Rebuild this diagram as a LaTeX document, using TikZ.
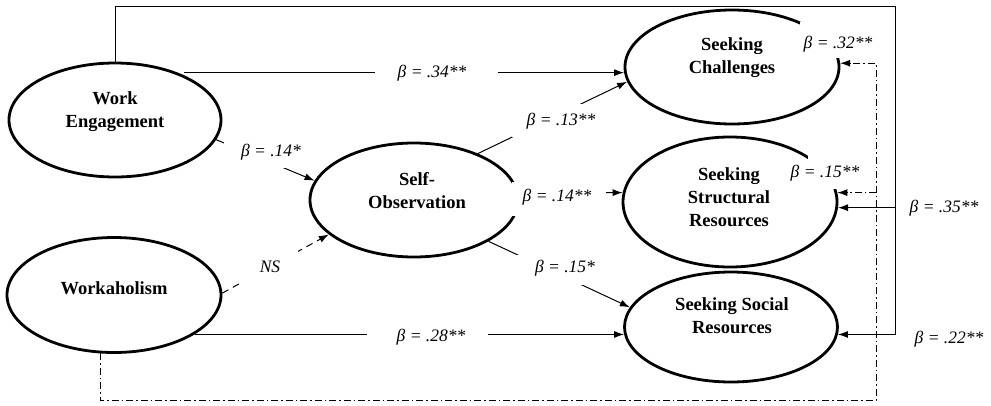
\documentclass[tikz,border=0pt]{standalone}
\usepackage{fontspec}
\setmainfont{Liberation Serif}
\usetikzlibrary{shapes.geometric,arrows.meta}
\begin{document}
\begin{tikzpicture}[x=1pt,y=-1pt,
  oval/.style={ellipse,draw,line width=2.8pt,inner sep=0pt},
  ovtext/.style={align=center,font=\bfseries\fontsize{18.5}{23}\selectfont,inner sep=0pt},
  lab/.style={font=\itshape\fontsize{17.5}{20}\selectfont,inner sep=0pt},
  conn/.style={line width=1pt},
  arr/.style={conn,-{Latex[length=10pt,width=7pt]}},
  dashline/.style={conn,dash pattern=on 7pt off 5pt},
  ddline/.style={conn,dash pattern=on 7pt off 3pt on 1.5pt off 3pt}]
\useasboundingbox (0,0) rectangle (991,405);
% ellipses
\node[oval,minimum width=212pt,minimum height=114pt] (we) at (115,120) {};
\node[oval,minimum width=214pt,minimum height=115pt] (wh) at (114,295) {};
\node[oval,minimum width=208pt,minimum height=114pt] (so) at (414,200) {};
\node[oval,minimum width=214pt,minimum height=114pt] (sc) at (732,67) {};
\node[oval,minimum width=214pt,minimum height=130pt] (ssr) at (730,202) {};
\node[oval,minimum width=213pt,minimum height=110pt] (ssoc) at (731,327) {};
% connectors
\coordinate (tr) at (895,6);
\coordinate (bl) at (876,400);
\draw[arr] (we.north) |- (tr) |- (ssoc.-4.3);
\draw[arr] (tr |- ssr.-3) -- (ssr.-3);
\draw[ddline,-{Latex[length=10pt,width=7pt]}] (wh.257) |- (bl) -- (bl |- sc.2) -- (sc.2);
\draw[ddline,-{Latex[length=10pt,width=7pt]}] (bl |- ssr.5) -- (ssr.5);
\draw[arr] (we.33 |- sc.183) -- (sc.183);
\draw[arr] (wh.-26 |- ssoc.184) -- (ssoc.184);
\draw[arr] (we.-11.5) -- (so.169);
\draw[dashline,-{Latex[length=10pt,width=7pt]}] (wh.1) -- (so.202);
\draw[arr] (so.36) -- (sc.188);
\draw[arr] (so.4) -- (ssr.175);
\draw[arr] (so.-29.5) -- (ssoc.169);
% white gaps behind labels
\fill[white] (375,64) rectangle (498,84);
\fill[white] (224,138) rectangle (318,167.5);
\fill[white] (243,251) rectangle (298,282);
\fill[white] (367,326) rectangle (488,348);
\fill[white] (512,104) rectangle (600,137);
\fill[white] (512,182) rectangle (606,216);
\fill[white] (515,255) rectangle (600,285);
\fill[white] (800,22) rectangle (872,58);
\fill[white] (808,153) rectangle (872,189);
% ellipse texts
\node[ovtext] (wet) at (115,112) {Work\\Engagement};
\node[ovtext] (wht) at (114,288) {Workaholism};
\node[ovtext] (sot) at (417,191) {Self-\\Observation};
\node[ovtext] (sct) at (732,58) {Seeking\\Challenges};
\node[ovtext] (ssrt) at (729,197) {Seeking\\Structural\\Resources};
\node[ovtext] (ssoct) at (732,316) {Seeking Social\\Resources};
% labels
\node[lab] (l34) at (432,73) {β = .34**};
\node[lab] (l14a) at (271,152) {β = .14*};
\node[lab] (lns) at (270,267) {NS};
\node[lab] (l28) at (431,337) {β = .28**};
\node[lab] (l13) at (561,121) {β = .13**};
\node[lab] (l14b) at (557,197) {β = .14**};
\node[lab] (l15a) at (565,268) {β = .15*};
\node[lab] (l32) at (838,44) {β = .32**};
\node[lab] (l15b) at (825,173) {β = .15**};
\node[lab] (l35) at (944,208) {β = .35**};
\node[lab] (l22) at (949,339) {β = .22**};
\end{tikzpicture}
\end{document}
